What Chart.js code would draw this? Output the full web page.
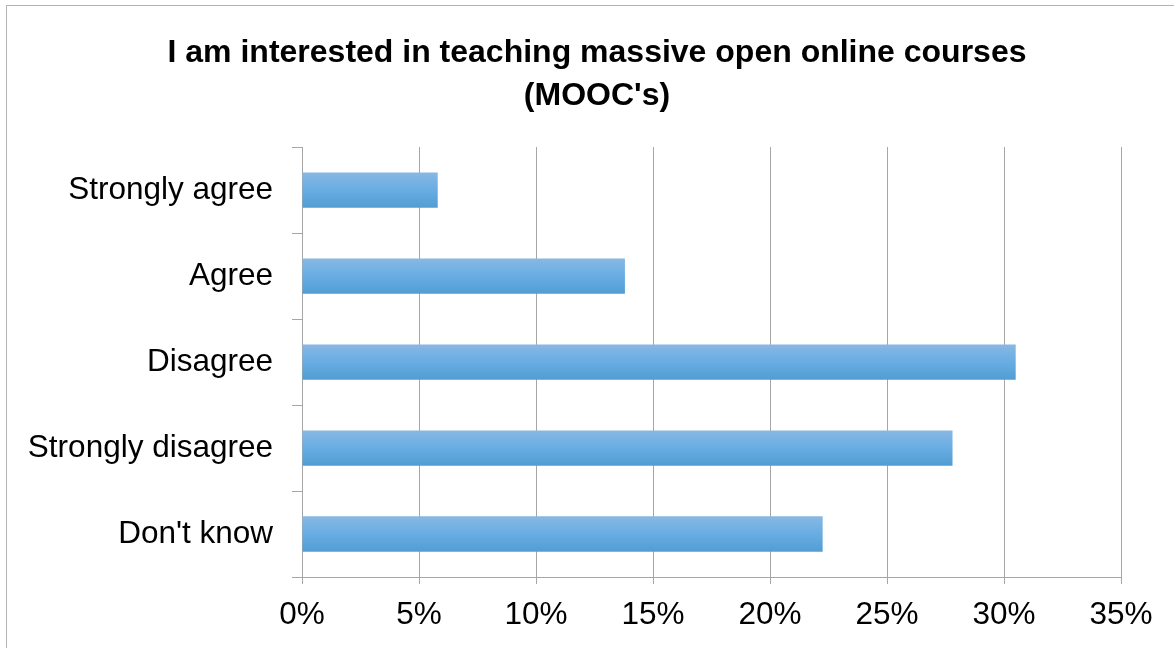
<!DOCTYPE html>
<html>
<head>
<meta charset="utf-8">
<script src="https://cdn.jsdelivr.net/npm/chart.js@4/dist/chart.umd.min.js"></script>
<style>
  html, body { margin: 0; padding: 0; background: #fff; overflow: hidden; width: 1174px; height: 648px; }
  #frame { position: absolute; left: 6px; top: 5px; width: 1180px; height: 662px; border: 1px solid #b4b4b4; box-sizing: border-box; background: #fff; }
  #wrap { position: absolute; left: 1px; top: 1px; width: 1178px; height: 660px; }
</style>
</head>
<body>
<div id="frame"><div id="wrap"><canvas id="c" width="1178" height="660"></canvas></div></div>
<script>
const titleLines = ["I am interested in teaching massive open online courses", "(MOOC's)"];
const categories = ["Strongly agree", "Agree", "Disagree", "Strongly disagree", "Don't know"];
const percentValues = [5.8, 13.8, 30.5, 27.8, 22.25];
const xTickMax = 35;
const xTickStep = 5;

function makeGradient(ctx, top, bottom) {
  const g = ctx.createLinearGradient(0, top, 0, bottom);
  g.addColorStop(0, '#88b8e3');
  g.addColorStop(0.5, '#68ade3');
  g.addColorStop(1, '#519dd3');
  return g;
}

const gradientPlugin = {
  id: 'barGradient',
  beforeDatasetsDraw(chart) {
    const ctx = chart.ctx;
    chart.getDatasetMeta(0).data.forEach(el => {
      const top = el.y - el.height / 2;
      const bottom = el.y + el.height / 2;
      el.options = Object.assign({}, el.options, { backgroundColor: makeGradient(ctx, top, bottom) });
    });
  }
};

const gridGray = '#a6a6a6';
const fontFamily = "'Liberation Sans', Arial, sans-serif";

new Chart(document.getElementById('c'), {
  type: 'bar',
  data: {
    labels: categories,
    datasets: [{
      data: percentValues,
      backgroundColor: (c) => '#68ade3',
      borderWidth: 0,
      categoryPercentage: 1.0,
      barPercentage: 0.41,
      xAxisID: 'x',
      yAxisID: 'y'
    }]
  },
  plugins: [gradientPlugin],
  options: {
    indexAxis: 'y',
    responsive: false,
    animation: false,
    devicePixelRatio: 1,
    layout: { padding: 0 },
    plugins: {
      legend: { display: false },
      tooltip: { enabled: false },
      title: {
        display: true,
        text: titleLines,
        color: '#000',
        font: { family: fontFamily, size: 32, weight: 'bold', lineHeight: 1.344 },
        padding: { top: 24.5, bottom: 29.5 }
      }
    },
    scales: {
      x: {
        min: 0,
        max: xTickMax,
        ticks: {
          stepSize: xTickStep,
          color: '#000',
          padding: 12,
          font: { family: fontFamily, size: 31.5 },
          callback: v => v + '%'
        },
        grid: { color: gridGray, lineWidth: 1, tickLength: 7, drawTicks: true },
        border: { display: true, color: gridGray, width: 1 },
        afterFit(scale) { scale.height = 90; }
      },
      y: {
        ticks: {
          color: '#000',
          padding: 19,
          font: { family: fontFamily, size: 31.5 }
        },
        grid: { display: true, drawOnChartArea: false, drawTicks: true, tickLength: 10, color: gridGray, offset: true },
        border: { display: true, color: gridGray, width: 1 },
        afterFit(scale) { scale.width = 294; }
      },
      spacer: {
        type: 'linear',
        position: 'right',
        display: true,
        ticks: { display: false },
        grid: { display: false, drawTicks: false },
        border: { display: false },
        afterFit(scale) { scale.width = 65; }
      }
    }
  }
});
</script>
</body>
</html>
